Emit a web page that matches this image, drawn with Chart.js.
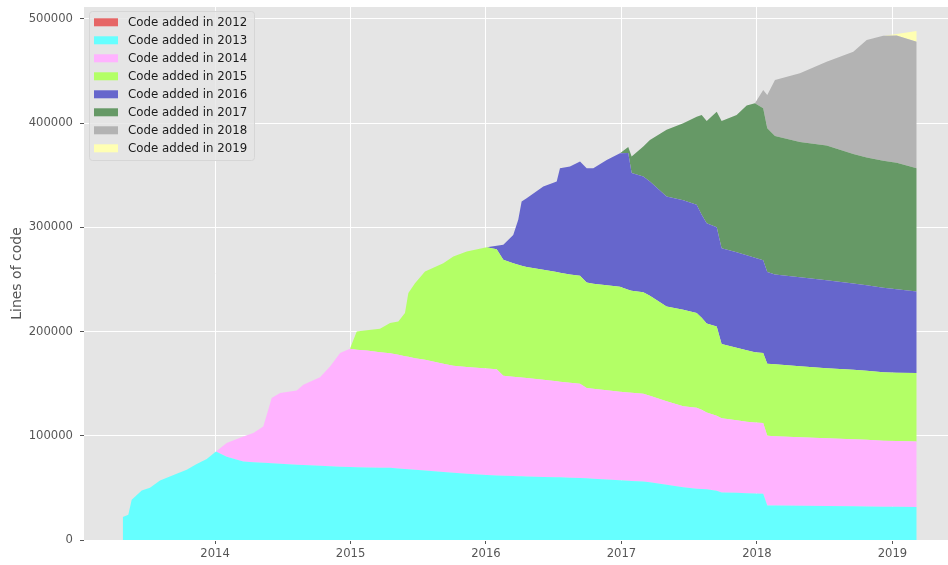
<!DOCTYPE html>
<html>
<head>
<meta charset="utf-8">
<script src="https://cdn.jsdelivr.net/npm/chart.js@4.4.1/dist/chart.umd.min.js"></script>
<style>
  html, body { margin: 0; padding: 0; background: #ffffff; }
  #wrap { width: 948px; height: 565px; }
</style>
</head>
<body>
<div id="wrap"><canvas id="chart" width="948" height="565"></canvas></div>
<script>
// ---------- data: lines of code still alive, split by the year they were added
var dates = [
  2013.319, 2013.360, 2013.385, 2013.459, 2013.520, 2013.594, 2013.717, 2013.791, 2013.865, 2013.939,
  2014.007, 2014.086, 2014.209, 2014.283, 2014.356, 2014.393, 2014.418, 2014.480, 2014.603, 2014.652,
  2014.775, 2014.849, 2014.923, 2014.996, 2015.046, 2015.120, 2015.218, 2015.292, 2015.353, 2015.402,
  2015.427, 2015.476, 2015.550, 2015.685, 2015.759, 2015.858, 2016.005, 2016.079, 2016.128, 2016.201,
  2016.238, 2016.263, 2016.300, 2016.423, 2016.522, 2016.546, 2016.620, 2016.694, 2016.743, 2016.792,
  2016.891, 2016.989, 2017.050, 2017.075, 2017.161, 2017.210, 2017.333, 2017.456, 2017.555, 2017.592,
  2017.629, 2017.703, 2017.739, 2017.850, 2017.924, 2017.985, 2018.046, 2018.076, 2018.133, 2018.317,
  2018.514, 2018.711, 2018.810, 2018.932, 2019.031, 2019.179
];

var added2012 = [
  0, 0, 0, 0, 0, 0, 0, 0, 0, 0,  0, 0, 0, 0, 0, 0, 0, 0, 0, 0,
  0, 0, 0, 0, 0, 0, 0, 0, 0, 0,  0, 0, 0, 0, 0, 0, 0, 0, 0, 0,
  0, 0, 0, 0, 0, 0, 0, 0, 0, 0,  0, 0, 0, 0, 0, 0, 0, 0, 0, 0,
  0, 0, 0, 0, 0, 0, 0, 0, 0, 0,  0, 0, 0, 0, 0, 0
];
var added2013 = [
  22000, 24300, 38600, 47600, 50100, 57100, 63600, 67400, 72900, 77700,
  84900, 79900, 75400, 74600, 74100, 73800, 73600, 73200, 72200, 71900,
  71200, 70800, 70300, 70000, 69800, 69600, 69400, 69200, 68700, 68100,
  67900, 67400, 66600, 65300, 64500, 63600, 62400, 61800, 61700, 61300,
  61200, 61100, 61000, 60500, 60200, 60100, 59800, 59400, 59200, 58800,
  58100, 57300, 56900, 56700, 56100, 55400, 53000, 50600, 49200, 48900,
  48600, 47300, 45600, 45400, 44900, 44600, 44400, 33200, 33100, 32900,
  32600, 32300, 32100, 31900, 31800, 31600
];
var added2014 = [
  0, 0, 0, 0, 0, 0, 0, 0, 0, 0,
  0, 13100, 24000, 28000, 34800, 51100, 62500, 67800, 71200, 77000,
  85000, 95700, 109000, 113400, 112700, 112100, 110800, 109900, 109000, 108200,
  107900, 106900, 106200, 103700, 102600, 102300, 102100, 102100, 95900, 95300,
  94900, 94700, 94400, 93200, 92000, 91700, 91000, 90400, 86600, 86300,
  85500, 84900, 84600, 84600, 84200, 82900, 80100, 77700, 77700, 76000,
  73700, 71900, 71100, 69500, 68600, 68100, 67800, 66800, 66400, 65700,
  65000, 64300, 64000, 63300, 63100, 62900
];
var added2015 = [
  0, 0, 0, 0, 0, 0, 0, 0, 0, 0,
  0, 0, 0, 0, 0, 0, 0, 0, 0, 0,
  0, 0, 0, 0, 17500, 19500, 22400, 29000, 31900, 41400,
  61100, 72100, 84700, 96600, 104800, 110800, 116400, 115100, 111200, 108800,
  107900, 107200, 106600, 105500, 105000, 104500, 104000, 103600, 101200, 100700,
  100700, 100700, 98600, 97800, 97300, 95900, 90900, 92500, 90800, 88200,
  85500, 85600, 71400, 69500, 68600, 67400, 67100, 69000, 69000, 68100,
  67100, 66600, 66200, 65700, 65500, 65600
];
var added2016 = [
  0, 0, 0, 0, 0, 0, 0, 0, 0, 0,
  0, 0, 0, 0, 0, 0, 0, 0, 0, 0,
  0, 0, 0, 0, 0, 0, 0, 0, 0, 0,
  0, 0, 0, 0, 0, 0, 0, 3200, 14400, 27300,
  43100, 61700, 65900, 79900, 86600, 100400, 103400, 109600, 109700, 110900,
  120300, 128200, 131100, 112900, 111200, 109600, 105500, 105000, 103800, 98800,
  96100, 95100, 91800, 91600, 91100, 90600, 89000, 88200, 86300, 85300,
  84400, 82900, 82000, 81000, 80100, 78200
];
var added2017 = [
  0, 0, 0, 0, 0, 0, 0, 0, 0, 0,
  0, 0, 0, 0, 0, 0, 0, 0, 0, 0,
  0, 0, 0, 0, 0, 0, 0, 0, 0, 0,
  0, 0, 0, 0, 0, 0, 0, 0, 0, 0,
  0, 0, 0, 0, 0, 0, 0, 0, 0, 0,
  0, 0, 5800, 15900, 28600, 40000, 64000, 74000, 84400, 95900,
  98100, 111000, 122100, 131800, 143600, 148300, 145900, 137800, 132800, 129900,
  129400, 124200, 122700, 121800, 121300, 118300
];
var added2018 = [
  0, 0, 0, 0, 0, 0, 0, 0, 0, 0,
  0, 0, 0, 0, 0, 0, 0, 0, 0, 0,
  0, 0, 0, 0, 0, 0, 0, 0, 0, 0,
  0, 0, 0, 0, 0, 0, 0, 0, 0, 0,
  0, 0, 0, 0, 0, 0, 0, 0, 0, 0,
  0, 0, 0, 0, 0, 0, 0, 0, 0, 0,
  0, 0, 0, 0, 0, 0, 17500, 31900, 53700, 65900,
  80300, 98100, 112700, 120100, 122100, 121400
];
var added2019 = [
  0, 0, 0, 0, 0, 0, 0, 0, 0, 0,
  0, 0, 0, 0, 0, 0, 0, 0, 0, 0,
  0, 0, 0, 0, 0, 0, 0, 0, 0, 0,
  0, 0, 0, 0, 0, 0, 0, 0, 0, 0,
  0, 0, 0, 0, 0, 0, 0, 0, 0, 0,
  0, 0, 0, 0, 0, 0, 0, 0, 0, 0,
  0, 0, 0, 0, 0, 0, 0, 0, 0, 0,
  0, 0, 0, 0, 1500, 10300
];

var seriesNames  = ['Code added in 2012', 'Code added in 2013', 'Code added in 2014', 'Code added in 2015',
                    'Code added in 2016', 'Code added in 2017', 'Code added in 2018', 'Code added in 2019'];
var seriesValues = [added2012, added2013, added2014, added2015, added2016, added2017, added2018, added2019];
var seriesColors = ['#e66666', '#66ffff', '#ffb3ff', '#b3ff66', '#6666cc', '#669966', '#b3b3b3', '#ffffb3'];

var xTicks = [2014, 2015, 2016, 2017, 2018, 2019];
var yTicks = [0, 100000, 200000, 300000, 400000, 500000];

// ---------- plot background + in-axes legend
var panelBg = {
  id: 'panelBg',
  beforeDraw: function (chart) {
    var a = chart.chartArea, ctx = chart.ctx;
    ctx.save();
    ctx.fillStyle = '#e5e5e5';
    ctx.fillRect(a.left, a.top, a.right - a.left, a.bottom - a.top);
    ctx.restore();
  }
};

function roundRect(ctx, x, y, w, h, r) {
  ctx.beginPath();
  ctx.moveTo(x + r, y);
  ctx.lineTo(x + w - r, y);
  ctx.quadraticCurveTo(x + w, y, x + w, y + r);
  ctx.lineTo(x + w, y + h - r);
  ctx.quadraticCurveTo(x + w, y + h, x + w - r, y + h);
  ctx.lineTo(x + r, y + h);
  ctx.quadraticCurveTo(x, y + h, x, y + h - r);
  ctx.lineTo(x, y + r);
  ctx.quadraticCurveTo(x, y, x + r, y);
  ctx.closePath();
}

var boxLegend = {
  id: 'boxLegend',
  afterDraw: function (chart) {
    var ctx = chart.ctx;
    var x0 = 89.5, y0 = 11.5, w = 165, h = 149;
    ctx.save();
    roundRect(ctx, x0, y0, w, h, 3);
    ctx.fillStyle = 'rgba(229,229,229,0.8)';
    ctx.fill();
    ctx.strokeStyle = '#d6d6d6';
    ctx.lineWidth = 1;
    ctx.stroke();
    ctx.font = '11.8px "DejaVu Sans"';
    ctx.textBaseline = 'middle';
    chart.data.datasets.forEach(function (ds, i) {
      var cy = 22.3 + i * 18.0;
      ctx.fillStyle = ds.backgroundColor;
      ctx.fillRect(94, cy - 4, 24, 8);
      ctx.fillStyle = '#1a1a1a';
      ctx.fillText(ds.label, 128, cy + 0.5);
    });
    ctx.restore();
  }
};

// drop the label overhang padding so the plot box sits where the layout puts it
function fixBox(size) {
  return function (s) {
    if (s.isHorizontal()) { s.height = size; } else { s.width = size; }
    s.paddingTop = 0; s.paddingBottom = 0; s.paddingLeft = 0; s.paddingRight = 0;
  };
}

// ---------- chart
var datasets = seriesValues.map(function (vals, i) {
  return {
    label: seriesNames[i],
    data: vals.map(function (v, k) { return { x: dates[k], y: v }; }),
    backgroundColor: seriesColors[i],
    borderWidth: 0,
    borderColor: seriesColors[i],
    pointRadius: 0,
    tension: 0,
    fill: i === 0 ? 'origin' : '-1'
  };
});

var tickFont = { family: '"DejaVu Sans"', size: 11.6 };

new Chart(document.getElementById('chart').getContext('2d'), {
  type: 'line',
  data: { datasets: datasets },
  options: {
    responsive: false,
    animation: false,
    devicePixelRatio: 1,
    layout: { padding: { top: 7, right: 0, left: 0, bottom: 0 } },
    plugins: {
      legend: { display: false },
      tooltip: { enabled: false },
      filler: { propagate: false }
    },
    scales: {
      x: {
        type: 'linear',
        min: 2013.033,
        max: 2019.41,
        afterBuildTicks: function (s) { s.ticks = xTicks.map(function (v) { return { value: v }; }); },
        afterFit: fixBox(25),
        ticks: {
          font: tickFont, color: '#555555', padding: 3,
          callback: function (v) { return String(v); }
        },
        grid: { color: '#ffffff', lineWidth: 1, tickColor: '#555555', tickLength: 4 },
        border: { display: false }
      },
      y: {
        type: 'linear',
        stacked: true,
        min: 0,
        max: 511300,
        afterBuildTicks: function (s) { s.ticks = yTicks.map(function (v) { return { value: v }; }); },
        afterFit: fixBox(84),
        ticks: {
          font: tickFont, color: '#555555', padding: 7,
          callback: function (v) { return String(v); }
        },
        title: {
          display: true, text: 'Lines of code', color: '#555555',
          font: { family: '"DejaVu Sans"', size: 14 },
          padding: { top: 9, bottom: 0 }
        },
        grid: { color: '#ffffff', lineWidth: 1, tickColor: '#555555', tickLength: 4 },
        border: { display: false }
      }
    }
  },
  plugins: [panelBg, boxLegend]
});
</script>
</body>
</html>
